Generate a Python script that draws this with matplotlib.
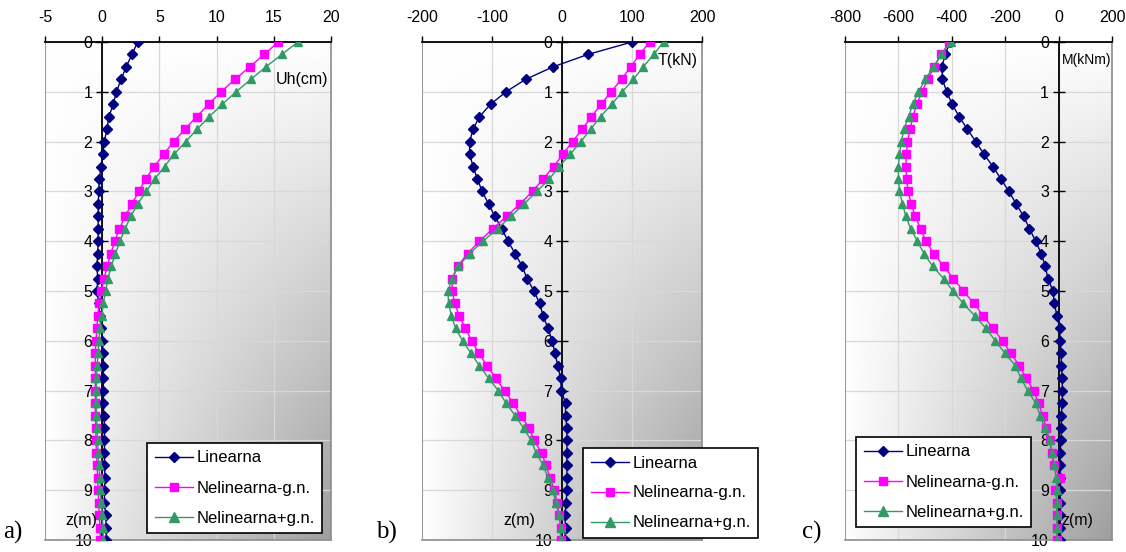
import numpy as np
import matplotlib
matplotlib.use("Agg")
import matplotlib.pyplot as plt

plt.rcParams['font.family'] = ['Liberation Sans', 'DejaVu Sans']

# depth of the pile points (m)
z = [0.0, 0.25, 0.5, 0.75, 1.0, 1.25, 1.5, 1.75, 2.0, 2.25, 2.5, 2.75, 3.0, 3.25,
     3.5, 3.75, 4.0, 4.25, 4.5, 4.75, 5.0, 5.25, 5.5, 5.75, 6.0, 6.25, 6.5, 6.75,
     7.0, 7.25, 7.5, 7.75, 8.0, 8.25, 8.5, 8.75, 9.0, 9.25, 9.5, 9.75, 10.0]

series_names = ["Linearna", "Nelinearna-g.n.", "Nelinearna+g.n."]

# a) horizontal displacement Uh (cm)
uh_lin = [3.1, 2.6, 2.1, 1.65, 1.25, 0.95, 0.6, 0.4, 0.2, 0.05, -0.1, -0.25, -0.3, -0.35,
          -0.35, -0.35, -0.35, -0.4, -0.45, -0.4, -0.45, -0.3, -0.2, -0.1, 0.0, 0.1, 0.1, 0.1,
          0.1, 0.1, 0.15, 0.2, 0.2, 0.2, 0.2, 0.25, 0.2, 0.2, 0.3, 0.35, 0.35]
uh_nl_minus = [15.4, 14.15, 12.9, 11.6, 10.4, 9.3, 8.25, 7.25, 6.25, 5.4, 4.55, 3.8, 3.2, 2.6,
               2.0, 1.5, 1.1, 0.75, 0.45, 0.15, -0.1, -0.25, -0.4, -0.45, -0.55, -0.6, -0.6, -0.6,
               -0.6, -0.6, -0.6, -0.55, -0.55, -0.5, -0.45, -0.4, -0.35, -0.3, -0.25, -0.2, -0.15]
uh_nl_plus = [17.1, 15.7, 14.3, 13.0, 11.7, 10.5, 9.35, 8.3, 7.3, 6.3, 5.45, 4.6, 3.85, 3.1,
              2.5, 2.0, 1.55, 1.15, 0.8, 0.5, 0.3, 0.1, -0.05, -0.2, -0.3, -0.35, -0.45, -0.5,
              -0.5, -0.5, -0.5, -0.45, -0.4, -0.35, -0.3, -0.2, -0.15, -0.1, 0.0, 0.05, 0.1]

# b) shear force T (kN)
t_lin = [100, 37, -13, -52, -80, -102, -118, -127, -132, -132, -127, -121, -114, -105,
         -96, -86, -77, -67, -57, -50, -40, -32, -27, -20, -14, -10, -6, -2,
         -1, 5, 5, 7, 7, 7, 7, 7, 7, 6, 4, 5, 4]
t_nl_minus = [125, 111, 98, 85, 70, 56, 42, 29, 15, 1.5, -12, -27, -42, -60,
              -79, -99, -118, -135, -149, -157, -157, -153, -147, -138, -129, -119, -107, -95,
              -82, -70, -59, -47, -40, -29, -23, -17, -11, -7, -4, -2, -2]
t_nl_plus = [145, 131, 116, 102, 86, 71, 55, 41, 27, 12, -4, -18, -36, -54,
             -73, -92, -113, -132, -148, -157, -163, -162, -158, -152, -142, -130, -118, -105,
             -91, -80, -67, -55, -44, -37, -27, -20, -13, -9, -4, -2, -2]

# c) bending moment M (kNm)
m_lin = [-406, -425, -437, -435, -419, -399, -372, -342, -310, -280, -246, -216, -186, -159,
         -131, -109, -86, -65, -50, -40, -21, -16, -6, 4, 6, 10, 10, 14,
         14, 14, 10, 10, 9, 6, 6, 6, 6, 6, 6, 6, 6]
m_nl_minus = [-409, -440, -466, -490, -512, -531, -546, -556, -566, -570, -572, -569, -564, -552,
              -537, -517, -497, -467, -431, -394, -357, -317, -282, -246, -210, -179, -147, -121,
              -94, -75, -60, -46, -34, -25, -19, 6, -12, -6, -6, -6, -6]
m_nl_plus = [-404, -439, -469, -499, -525, -546, -562, -579, -589, -596, -600, -600, -596, -585,
             -572, -554, -529, -504, -472, -431, -396, -357, -314, -272, -237, -201, -162, -141,
             -116, -86, -69, -52, -34, -25, -16, -10, -7, -7, -7, -6, -6]

colors = ["#000080", "#ff00ff", "#339966"]
markers = ["D", "s", "^"]
msizes = [5.0, 5.6, 6.4]


def gradient_bg(ax):
    ny, nx = 200, 200
    u = np.linspace(0, 1, nx)[None, :]
    w = np.linspace(0, 1, ny)[:, None]   # 0 at top, 1 at bottom
    d = np.clip(u * w, 0, 1) ** 0.95
    v = 1 - 0.38 * d
    img = np.dstack([v, v, v])
    # origin upper: row 0 drawn at the top of the axes
    ax.imshow(img, extent=[0, 1, 0, 1], transform=ax.transAxes, aspect='auto',
              zorder=0, interpolation='bilinear')


def make_panel(ax, data, xlim, xticks, unit_label, unit_pos, unit_ha, unit_fs,
               z_pos, letter, letter_x, leg_box):
    gradient_bg(ax)
    for vals, name, c, mk, ms in zip(data, series_names, colors, markers, msizes):
        ax.plot(vals, z, color=c, marker=mk, markersize=ms, linewidth=1.0,
                markeredgecolor=c, label=name, zorder=3)
    ax.set_xlim(xlim)
    ax.set_ylim(10, 0)
    ax.set_xticks(xticks)
    ax.set_xticklabels([str(t) for t in xticks])
    ax.set_yticks(range(0, 11))
    ax.xaxis.tick_top()
    ax.tick_params(axis='x', direction='out', length=4, width=1, labelsize=11.5, pad=8)
    ax.tick_params(axis='y', direction='inout', length=8, width=1, labelsize=11.5, pad=3)
    ax.grid(True, color='#d8d8d8', linewidth=0.9, zorder=1)
    ax.set_axisbelow(True)
    ax.spines['left'].set_position(('data', 0))
    ax.spines['left'].set_linewidth(1.3)
    ax.spines['left'].set_zorder(2)
    ax.spines['top'].set_linewidth(1.3)
    for s in ['right', 'bottom']:
        ax.spines[s].set_color('#8c8c8c')
        ax.spines[s].set_linewidth(1.2)
    ax.axvline(xlim[0], color='#8c8c8c', linewidth=1.2, zorder=2)
    ax.text(unit_pos[0], unit_pos[1], unit_label, transform=ax.transAxes, fontsize=unit_fs,
            ha=unit_ha, va='center')
    ax.text(z_pos[0], z_pos[1], "z(m)", transform=ax.transAxes, fontsize=11.5,
            ha='left', va='center')
    fig.text(letter_x, 0.015, letter, fontsize=18, family='Liberation Serif',
             ha='left', va='bottom')
    leg = ax.legend(loc='lower left', bbox_to_anchor=leg_box, bbox_transform=fig.transFigure,
                    frameon=True, fancybox=False, fontsize=12, handlelength=2.3,
                    labelspacing=0.9, borderpad=0.45, handletextpad=0.2, borderaxespad=0,
                    markerscale=1.05)
    leg.get_frame().set_edgecolor('black')
    leg.get_frame().set_linewidth(1.2)
    leg.get_frame().set_alpha(1)
    leg.set_zorder(5)


fig = plt.figure(figsize=(11.26, 5.52), dpi=100)
H = 552.0
W = 1126.0
ax_a = fig.add_axes([45 / W, 12 / H, 286 / W, 498 / H])
ax_b = fig.add_axes([422 / W, 12 / H, 280 / W, 498 / H])
ax_c = fig.add_axes([845 / W, 12 / H, 267 / W, 498 / H])

make_panel(ax_a, [uh_lin, uh_nl_minus, uh_nl_plus], (-5, 20), [-5, 0, 5, 10, 15, 20],
           "Uh(cm)", (0.99, 0.925), 'right', 11.5, (0.07, 0.04), "a)", 0.003,
           (147 / W, (552 - 533) / H))
make_panel(ax_b, [t_lin, t_nl_minus, t_nl_plus], (-200, 200), [-200, -100, 0, 100, 200],
           "T(kN)", (0.985, 0.963), 'right', 11.5, (0.29, 0.04), "b)", 0.334,
           (583 / W, (552 - 538) / H))
make_panel(ax_c, [m_lin, m_nl_minus, m_nl_plus], (-800, 200), [-800, -600, -400, -200, 0, 200],
           "M(kNm)", (0.813, 0.963), 'left', 10, (0.81, 0.04), "c)", 0.712,
           (856 / W, (552 - 527) / H))

fig.savefig("out.png", dpi=100)
